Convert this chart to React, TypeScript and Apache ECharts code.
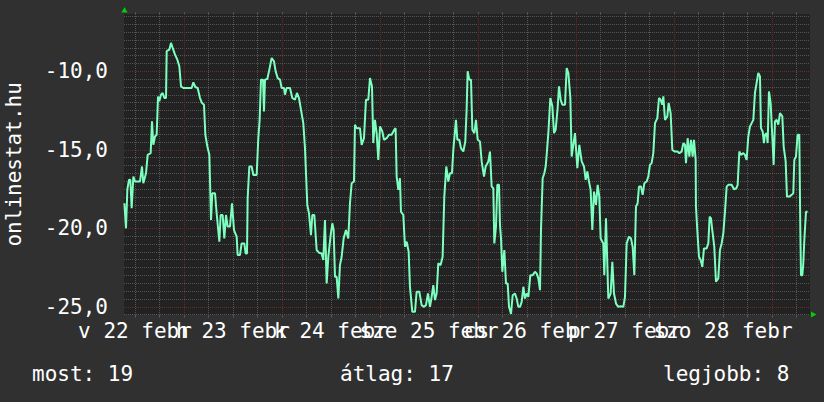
import React, { useEffect, useRef } from 'react';
import * as echarts from 'echarts';

const FONT = '"DejaVu Sans Mono", monospace';

// hours since 22 febr 00:00
const hours = [
  9.4, 9.8, 10.13, 10.53, 10.86, 11.19, 11.6, 12.0, 13.23, 13.72, 14.04, 14.7, 15.11, 15.84, 16.17, 16.49, 16.9, 17.31,
  17.64, 17.96, 18.37, 18.78, 19.19, 19.6, 19.76, 20.41, 20.82, 21.23, 21.8, 22.37, 22.86, 23.27, 23.84, 25.88, 26.29,
  26.78, 27.35, 27.92, 28.41, 28.9, 29.23, 29.72, 30.21, 30.62, 30.94, 31.6, 32.0, 32.66, 32.98, 33.47, 33.88, 34.29,
  34.7, 35.27, 35.76, 36.25, 36.9, 37.14, 37.71, 38.12, 38.78, 39.1, 39.43, 39.59, 40.0, 40.57, 40.98, 41.8, 42.2,
  42.53, 42.86, 43.35, 43.59, 43.84, 44.41, 44.9, 45.47, 46.04, 46.45, 46.94, 47.51, 47.92, 48.49, 48.73, 49.14, 49.96,
  50.53, 51.18, 51.67, 52.16, 52.65, 53.22, 53.63, 53.88, 54.2, 54.61, 55.1, 55.43, 55.92, 56.49, 57.06, 57.71, 58.12,
  58.53, 58.94, 59.35, 59.92, 60.33, 60.65, 60.98, 61.39, 61.8, 62.2, 62.61, 63.1, 63.67, 64.24, 64.65, 65.06, 65.63,
  65.87, 66.28, 67.1, 67.51, 68.08, 68.57, 69.14, 69.55, 70.04, 70.36, 70.77, 71.18, 71.59, 72.0, 72.57, 72.98, 73.63,
  74.2, 74.85, 75.51, 75.83, 76.08, 76.49, 76.89, 77.14, 77.71, 78.12, 78.53, 79.02, 79.34, 79.92, 80.57, 80.98, 81.63,
  82.2, 82.77, 83.26, 83.75, 84.24, 84.65, 85.06, 85.47, 85.87, 86.28, 86.85, 87.34, 87.75, 88.24, 88.73, 89.14, 89.63,
  89.96, 90.61, 90.94, 91.43, 91.83, 92.41, 92.89, 93.22, 93.47, 93.87, 94.29, 94.62, 95.11, 95.51, 95.92, 96.49, 96.9,
  97.47, 97.88, 98.53, 98.94, 99.35, 99.76, 100.0, 100.41, 100.74, 101.15, 101.39, 101.64, 101.96, 102.45, 102.86,
  103.27, 103.6, 104.09, 104.49, 105.06, 105.47, 105.88, 106.29, 106.7, 107.11, 107.51, 107.92, 108.33, 108.82, 109.39,
  109.96, 110.37, 110.78, 111.19, 111.43, 111.84, 112.25, 112.58, 112.82, 113.23, 113.72, 114.21, 114.62, 115.02,
  115.51, 115.84, 116.25, 116.66, 117.31, 117.72, 118.13, 118.62, 118.94, 119.35, 119.76, 120.33, 120.82, 121.39,
  121.96, 122.37, 122.78, 123.18, 123.59, 124.0, 124.41, 124.9, 125.31, 125.71, 126.04, 126.69, 126.94, 127.35, 127.67,
  127.92, 128.49, 128.9, 129.31, 129.8, 130.37, 130.94, 131.59, 132.0, 132.41, 132.98, 133.47, 133.88, 134.29, 134.69,
  135.1, 135.43, 135.92, 136.33, 136.73, 137.31, 137.71, 138.12, 138.53, 138.94, 139.35, 139.92, 140.33, 140.73,
  141.14, 141.39, 141.8, 142.37, 142.69, 143.18, 143.59, 144.24, 144.82, 145.31, 145.88, 146.29, 146.69, 146.94,
  147.35, 147.76, 148.16, 148.57, 148.9, 149.31, 149.38, 149.71, 150.12, 150.53, 150.94, 151.34, 151.99, 152.41,
  152.73, 153.06, 153.38, 153.87, 154.28, 154.85, 155.26, 155.67, 156.08, 156.49, 156.9, 157.3, 158.12, 158.69, 159.26,
  159.59, 160.0, 160.4, 160.98, 161.38, 161.79, 162.2, 162.61, 163.02, 163.43, 163.83, 164.24, 164.65, 165.06, 165.3,
  165.71, 166.04, 166.28, 166.69, 166.94, 167.26, 167.67, 168.08, 168.41, 168.73, 169.14, 169.55, 169.96, 170.53,
  170.86, 171.35, 171.67, 172.24, 172.81, 173.22, 173.47, 173.87, 174.28, 174.69, 174.94, 175.1, 175.43, 175.67,
  175.92, 176.33, 176.73,
];

const temps = [
  -18.4, -20.0, -17.51, -16.91, -16.91, -18.72, -16.7, -17.02, -17.02, -16.06, -17.13, -16.49, -15.32, -15.21, -13.19,
  -14.68, -14.15, -14.04, -11.6, -11.91, -11.49, -11.38, -11.7, -11.7, -8.72, -8.62, -8.19, -8.51, -8.94, -9.26, -9.68,
  -10.96, -11.06, -11.06, -10.7, -11.0, -11.06, -11.7, -12.02, -12.13, -14.04, -14.79, -15.32, -19.47, -17.77, -17.77,
  -19.04, -20.85, -19.15, -19.15, -20.64, -19.15, -19.89, -19.89, -18.4, -20.11, -20.53, -21.7, -21.7, -20.96, -20.96,
  -21.6, -21.6, -18.09, -16.06, -16.06, -16.6, -16.6, -14.26, -13.09, -10.53, -10.53, -12.55, -10.53, -10.49, -9.89,
  -9.15, -9.36, -10.0, -10.43, -10.53, -11.06, -11.06, -11.49, -11.06, -11.06, -11.7, -11.81, -11.38, -11.7, -12.45,
  -13.3, -14.89, -16.49, -18.51, -19.04, -20.43, -19.15, -19.15, -21.38, -21.55, -21.6, -22.02, -19.47, -23.51, -21.81,
  -20.43, -19.68, -20.11, -23.09, -23.09, -24.47, -22.34, -21.81, -20.64, -20.11, -20.64, -18.4, -17.13, -17.02, -13.4,
  -13.62, -13.62, -14.68, -14.26, -11.81, -11.81, -10.43, -10.96, -14.57, -13.09, -13.94, -15.64, -13.51, -13.83,
  -14.36, -14.26, -14.04, -14.04, -13.72, -13.62, -16.7, -17.55, -16.81, -18.94, -19.15, -21.17, -20.85, -21.49,
  -23.72, -25.32, -25.32, -24.04, -24.04, -24.89, -25.0, -24.89, -24.15, -25.0, -24.36, -23.62, -24.57, -24.15, -22.23,
  -22.34, -21.81, -17.98, -16.06, -17.02, -16.49, -16.49, -15.0, -13.09, -14.36, -14.36, -14.89, -15.11, -14.47, -12.45,
  -10.0, -10.53, -10.53, -13.72, -13.94, -13.09, -14.36, -14.47, -15.74, -16.7, -16.06, -15.74, -15.11, -17.34, -17.45,
  -20.96, -19.89, -17.23, -17.23, -19.79, -20.64, -22.77, -21.38, -23.51, -23.51, -25.0, -25.45, -24.26, -24.15, -24.47,
  -25.0, -25.0, -24.68, -23.72, -24.47, -24.15, -24.36, -22.98, -22.98, -22.77, -22.87, -23.19, -23.94, -20.11, -16.81,
  -16.49, -16.06, -15.32, -13.94, -11.7, -12.23, -13.94, -13.72, -12.34, -10.96, -11.81, -12.13, -12.13, -9.79, -10.11,
  -11.7, -15.43, -14.68, -13.94, -16.17, -14.68, -15.74, -16.06, -16.91, -16.38, -17.02, -17.55, -20.11, -17.66,
  -18.51, -17.23, -17.98, -20.64, -20.96, -22.98, -19.36, -22.23, -24.47, -24.15, -22.13, -24.15, -24.79, -25.0,
  -24.96, -25.0, -24.36, -20.96, -20.53, -20.64, -21.17, -22.98, -18.62, -18.4, -17.34, -17.34, -17.87, -17.13, -17.02,
  -16.7, -15.96, -15.85, -15.21, -13.3, -12.98, -11.7, -11.81, -12.13, -11.6, -13.09, -12.87, -12.02, -12.66, -15.0,
  -15.11, -15.11, -15.21, -15.11, -14.57, -14.68, -15.85, -14.26, -15.43, -14.36, -15.43, -14.36, -15.64, -18.62,
  -20.11, -21.81, -22.02, -22.45, -21.28, -21.28, -20.96, -19.26, -19.36, -20.11, -21.17, -23.4, -23.19, -21.38, -20.96,
  -20.32, -18.94, -17.34, -17.23, -17.23, -17.51, -17.45, -17.23, -15.11, -15.32, -15.21, -15.32, -15.64, -14.15,
  -13.51, -13.3, -13.09, -11.38, -10.74, -10.11, -10.32, -13.62, -13.83, -14.57, -14.04, -13.94, -14.57, -11.28, -12.02,
  -14.15, -15.96, -13.19, -13.09, -13.4, -12.66, -12.87, -14.79, -15.74, -17.98, -17.98, -17.87, -17.77, -15.64, -15.43,
  -14.04, -14.04, -20.11, -22.98, -22.98, -22.23, -20.74, -18.94, -18.94,
];

const dayNoonHours = [12, 36, 60, 84, 108, 132, 156];
const dayLabels = ['v 22 febr', 'h 23 febr', 'k 24 febr', 'sze 25 febr', 'cs 26 febr', 'p 27 febr', 'szo 28 febr'];
const quarterDayHours = [12, 18, 24, 30, 36, 42, 48, 54, 60, 66, 72, 78, 84, 90, 96, 102, 108, 114, 120, 126, 132, 138,
  144, 150, 156, 162, 168, 174];
const yLabelValues = [-25, -20, -15, -10];
const legendTexts = ['most: 19', 'átlag: 17', 'legjobb: 8'];
const axisTitle = 'onlinestat.hu';

export default function App() {
  const ref = useRef<HTMLDivElement>(null);
  useEffect(() => {
    const chart = echarts.init(ref.current!, null, { renderer: 'svg' });
    const txt = { color: '#ffffff', fontFamily: FONT, fontSize: 21 };
    const minorColor = '#545454';
    const majorColor = '#692a2a';
    const dash = [1, 1];
    const xMin = 9.31;
    const xMax = 177.31;
    const dayFmt = (v: number) => { const i = dayNoonHours.indexOf(v); return i >= 0 ? dayLabels[i] : ''; };
    const evenDays = dayNoonHours.filter((_, i) => i % 2 === 0);
    const oddDays = dayNoonHours.filter((_, i) => i % 2 === 1);
    // grid line colours cycle: ticks start at 12h -> minor, minor, MAJOR(24h), minor ...
    const xLineColors = [minorColor, minorColor, majorColor, minorColor];
    // y ticks start at -25.5 -> minor, MAJOR(-25), minor x 8
    const yLineColors = [minorColor, majorColor, minorColor, minorColor, minorColor, minorColor, minorColor,
      minorColor, minorColor, minorColor];
    const legendX = [32, 340, 663];
    chart.setOption({
      animation: false,
      backgroundColor: '#303030',
      grid: {
        left: 124, top: 14, width: 686, height: 300.7, show: true, backgroundColor: '#222222', borderWidth: 0,
        outerBoundsMode: 'none', containLabel: false,
      },
      xAxis: [
        {
          type: 'value', min: xMin, max: xMax, position: 'bottom',
          axisLine: { show: false },
          axisTick: { show: true, customValues: quarterDayHours, length: 3, lineStyle: { color: '#555555' } },
          axisLabel: {
            customValues: evenDays, formatter: dayFmt,
            margin: 6, hideOverlap: false, showMinLabel: true, showMaxLabel: true, ...txt,
          },
          splitLine: { show: true, lineStyle: { color: xLineColors, type: dash, width: 1 } },
        },
        {
          type: 'value', min: xMin, max: xMax, position: 'bottom',
          axisLine: { show: false },
          axisTick: { show: false },
          axisLabel: {
            customValues: oddDays, formatter: dayFmt,
            margin: 6, hideOverlap: false, showMinLabel: true, showMaxLabel: true, ...txt,
          },
          splitLine: { show: false },
        },
        {
          type: 'value', min: xMin, max: xMax, position: 'top',
          axisLine: { show: false },
          axisTick: { show: true, customValues: quarterDayHours, length: 2, lineStyle: { color: '#555555' } },
          axisLabel: { show: false },
          splitLine: { show: false },
        },
      ],
      yAxis: {
        type: 'value', min: -25.5, max: -6.35, interval: 0.5,
        name: axisTitle, nameLocation: 'middle', nameGap: 100, nameMoveOverlap: false, nameTextStyle: txt,
        axisLine: { show: false }, axisTick: { show: false },
        axisLabel: {
          customValues: yLabelValues,
          formatter: (v: number) => v.toFixed(1).replace('.', ','),
          margin: 16, showMinLabel: true, showMaxLabel: true, ...txt,
        },
        splitLine: { show: true, showMaxLine: false, lineStyle: { color: yLineColors, type: dash, width: 1 } },
      },
      series: [
        {
          type: 'line', xAxisIndex: 0, data: hours.map((h, i) => [h, temps[i]]), showSymbol: false, z: 3,
          lineStyle: { color: '#7dffbf', width: 2 }, itemStyle: { color: '#7dffbf' },
        },
      ],
      graphic: [
        { type: 'polygon', shape: { points: [[121.5, 12.5], [127.5, 12.5], [124.5, 7]] }, style: { fill: '#00d000' } },
        { type: 'polygon', shape: { points: [[811, 311.5], [811, 317.5], [816.5, 314.5]] }, style: { fill: '#00d000' } },
        ...legendTexts.map((t, i) => ({
          type: 'text', left: legendX[i], top: 363,
          style: { text: t, fill: '#ffffff', font: `21px ${FONT}` },
        })),
      ],
    });
    return () => chart.dispose();
  }, []);
  return <div ref={ref} style={{ position: 'fixed', left: 0, top: 0, width: 824, height: 402 }} />;
}
